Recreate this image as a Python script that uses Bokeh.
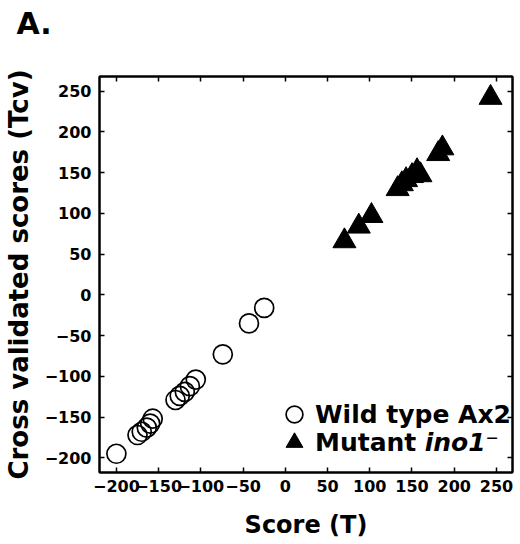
from bokeh.plotting import figure
from bokeh.models import (LinearAxis, SingleIntervalTicker, Legend, LegendItem,
                          Label, Range1d)
from bokeh.embed import file_html
from bokeh.resources import INLINE

# Wild type Ax2 (open circles)
wt_x = [-200, -175, -170, -164, -160, -157, -130, -125, -119, -113, -106, -74, -43, -25]
wt_y = [-195, -172, -168, -163, -158, -152, -129, -124, -119, -112, -104, -73, -35, -16]
# Mutant ino1- (filled triangles)
mu_x = [70, 87, 102, 133, 138, 143, 150, 156, 160, 181, 186, 243]
mu_y = [66, 84, 97, 130, 136, 141, 146, 152, 147, 173, 180, 242]

FONT = "DejaVu Sans"

p = figure(frame_width=413, frame_height=396, output_backend="svg",
           toolbar_location=None, x_range=Range1d(-220, 269),
           y_range=Range1d(-218, 268),
           min_border_left=0, min_border_right=5, min_border_top=0,
           min_border_bottom=0, x_axis_label="Score (T)",
           y_axis_label="Cross validated scores (Tcv)")
p.grid.visible = False
p.outline_line_color = "black"
p.outline_line_width = 2
p.background_fill_color = "white"
p.border_fill_color = "white"

p.title.text = "A."
p.title.align = "left"
p.title.offset = -83
p.title.text_font = FONT
p.title.text_font_style = "bold"
p.title.text_font_size = "30px"
p.title.text_color = "black"
p.title.standoff = 6

r_wt = p.scatter(wt_x, wt_y, marker="circle", size=19, fill_color=None,
                 line_color="black", line_width=1.7)
r_mu = p.scatter(mu_x, mu_y, marker="triangle", size=23, fill_color="black",
                 line_color="black", line_width=1)

def style(ax, labels=True):
    ax.ticker = SingleIntervalTicker(interval=50)
    ax.minor_tick_line_color = None
    ax.major_tick_in = 5
    ax.major_tick_out = 0
    ax.major_tick_line_color = "black"
    ax.major_tick_line_width = 1.5
    ax.axis_line_color = "black"
    ax.axis_line_width = 2
    ax.major_label_text_font = FONT
    ax.major_label_text_font_style = "bold"
    ax.major_label_text_font_size = "16px"
    ax.major_label_text_color = "black"
    ax.axis_label_text_font = FONT
    ax.axis_label_text_font_style = "bold"
    ax.axis_label_text_font_size = "24px"
    ax.axis_label_text_color = "black"
    if not labels:
        ax.major_label_text_font_size = "0px"
        ax.major_label_standoff = 0

style(p.xaxis[0])
style(p.yaxis[0])
p.yaxis[0].axis_label_text_font_size = "26px"
p.xaxis[0].major_label_standoff = 3
p.yaxis[0].major_label_standoff = 4
p.xaxis[0].axis_label_standoff = 16
p.yaxis[0].axis_label_standoff = 8

top = LinearAxis()
style(top, labels=False)
p.add_layout(top, "above")

# invisible spacer above the frame (room between the panel letter and the frame)
spacer = LinearAxis()
style(spacer, labels=False)
spacer.major_tick_in = 0
spacer.major_tick_out = 29
spacer.major_tick_line_color = None
spacer.axis_line_color = None
p.add_layout(spacer, "above")

right = LinearAxis()
style(right, labels=False)
p.add_layout(right, "right")

def make_legend(label, renderer, loc):
    lg = Legend(items=[LegendItem(label=label, renderers=[renderer])],
                location=loc)
    lg.border_line_color = None
    lg.background_fill_alpha = 0
    lg.label_text_font = FONT
    lg.label_text_font_style = "bold"
    lg.label_text_font_size = "25px"
    lg.label_text_color = "black"
    lg.glyph_width = 42
    lg.glyph_height = 42
    lg.label_height = 28
    lg.label_standoff = -3
    lg.padding = 0
    lg.margin = 0
    return lg

p.add_layout(make_legend("Wild type Ax2", r_wt, (174, 37)), "center")
p.add_layout(make_legend("Mutant", r_mu, (174, 9)), "center")

ino = Label(x=165, y=-181, text="ino1⁻", text_font=FONT,
            text_font_style="bold italic", text_font_size="25px",
            text_color="black", text_baseline="middle")
p.add_layout(ino)

open("out.html", "w").write(file_html(p, INLINE))
